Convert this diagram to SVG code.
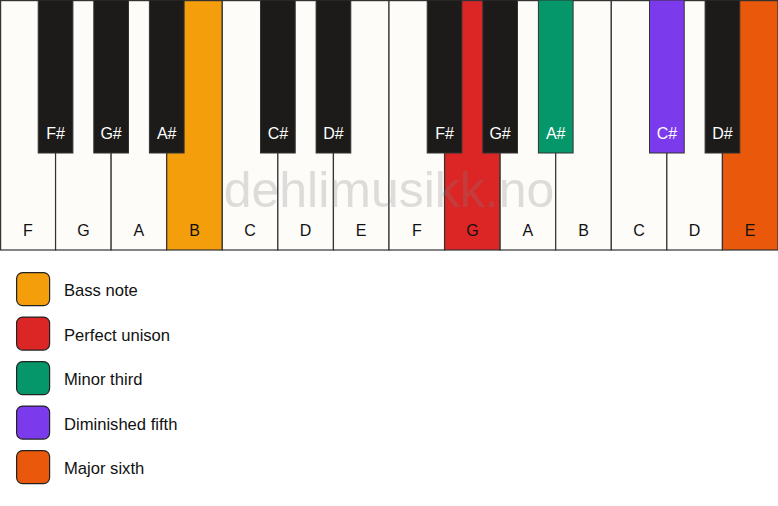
<svg xmlns="http://www.w3.org/2000/svg" width="778" height="506" viewBox="0 0 778 506">
<style>
text{font-family:"Liberation Sans",Arial,sans-serif;font-size:16px}
.w{fill:#fdfcf9;stroke:#333;stroke-width:1.2}
.b{fill:#1c1b19;stroke:#333;stroke-width:1}
.wl{fill:#111;text-anchor:middle}
.bl{fill:#fff;text-anchor:middle}
.lg{stroke:#222;stroke-width:1.2}
.lt{fill:#111;font-size:16.6px}
</style>
<rect width="778" height="506" fill="#fff"/>
<g id="white-keys">
<g id="key-F1"><rect class="w" x="0.6" y="0.6" width="54.97" height="249.4"/><text class="wl" x="27.8" y="236">F</text></g>
<g id="key-G1"><rect class="w" x="55.57" y="0.6" width="55.57" height="249.4"/><text class="wl" x="83.4" y="236">G</text></g>
<g id="key-A1"><rect class="w" x="111.14" y="0.6" width="55.57" height="249.4"/><text class="wl" x="138.9" y="236">A</text></g>
<g id="key-B1"><rect class="w" x="166.71" y="0.6" width="55.57" height="249.4" style="fill:#f59e0b"/><text class="wl" x="194.5" y="236">B</text></g>
<g id="key-C1"><rect class="w" x="222.29" y="0.6" width="55.57" height="249.4"/><text class="wl" x="250.1" y="236">C</text></g>
<g id="key-D1"><rect class="w" x="277.86" y="0.6" width="55.57" height="249.4"/><text class="wl" x="305.6" y="236">D</text></g>
<g id="key-E1"><rect class="w" x="333.43" y="0.6" width="55.57" height="249.4"/><text class="wl" x="361.2" y="236">E</text></g>
<g id="key-F2"><rect class="w" x="389" y="0.6" width="55.57" height="249.4"/><text class="wl" x="416.8" y="236">F</text></g>
<g id="key-G2"><rect class="w" x="444.57" y="0.6" width="55.57" height="249.4" style="fill:#dc2626"/><text class="wl" x="472.4" y="236">G</text></g>
<g id="key-A2"><rect class="w" x="500.14" y="0.6" width="55.57" height="249.4"/><text class="wl" x="527.9" y="236">A</text></g>
<g id="key-B2"><rect class="w" x="555.71" y="0.6" width="55.57" height="249.4"/><text class="wl" x="583.5" y="236">B</text></g>
<g id="key-C2"><rect class="w" x="611.29" y="0.6" width="55.57" height="249.4"/><text class="wl" x="639.1" y="236">C</text></g>
<g id="key-D2"><rect class="w" x="666.86" y="0.6" width="55.57" height="249.4"/><text class="wl" x="694.6" y="236">D</text></g>
<g id="key-E2"><rect class="w" x="722.43" y="0.6" width="55.57" height="249.4" style="fill:#ea580c"/><text class="wl" x="750.2" y="236">E</text></g>
</g>
<text x="389" y="207" text-anchor="middle" style="font-size:50px;fill:#808080;opacity:0.25">dehlimusikk.no</text>
<g id="black-keys">
<g id="key-Fs1"><rect class="b" x="38.2" y="0" width="34.7" height="153"/><text class="bl" x="55.6" y="139">F#</text></g>
<g id="key-Gs1"><rect class="b" x="93.8" y="0" width="34.7" height="153"/><text class="bl" x="111.1" y="139">G#</text></g>
<g id="key-As1"><rect class="b" x="149.4" y="0" width="34.7" height="153"/><text class="bl" x="166.7" y="139">A#</text></g>
<g id="key-Cs1"><rect class="b" x="260.5" y="0" width="34.7" height="153"/><text class="bl" x="277.9" y="139">C#</text></g>
<g id="key-Ds1"><rect class="b" x="316.1" y="0" width="34.7" height="153"/><text class="bl" x="333.4" y="139">D#</text></g>
<g id="key-Fs2"><rect class="b" x="427.2" y="0" width="34.7" height="153"/><text class="bl" x="444.6" y="139">F#</text></g>
<g id="key-Gs2"><rect class="b" x="482.8" y="0" width="34.7" height="153"/><text class="bl" x="500.1" y="139">G#</text></g>
<g id="key-As2"><rect class="b" x="538.4" y="0" width="34.7" height="153" style="fill:#059669"/><text class="bl" x="555.7" y="139">A#</text></g>
<g id="key-Cs2"><rect class="b" x="649.5" y="0" width="34.7" height="153" style="fill:#7c3aed"/><text class="bl" x="666.9" y="139">C#</text></g>
<g id="key-Ds2"><rect class="b" x="705.1" y="0" width="34.7" height="153"/><text class="bl" x="722.4" y="139">D#</text></g>
</g>
<g id="legend">
<g id="legend-bass"><rect class="lg" x="16.6" y="272.6" width="33" height="33" rx="6" fill="#f59e0b"/><text class="lt" x="64" y="296">Bass note</text></g>
<g id="legend-unison"><rect class="lg" x="16.6" y="317.1" width="33" height="33" rx="6" fill="#dc2626"/><text class="lt" x="64" y="340.5">Perfect unison</text></g>
<g id="legend-minor3"><rect class="lg" x="16.6" y="361.6" width="33" height="33" rx="6" fill="#059669"/><text class="lt" x="64" y="385">Minor third</text></g>
<g id="legend-dim5"><rect class="lg" x="16.6" y="406.1" width="33" height="33" rx="6" fill="#7c3aed"/><text class="lt" x="64" y="429.5">Diminished fifth</text></g>
<g id="legend-maj6"><rect class="lg" x="16.6" y="450.6" width="33" height="33" rx="6" fill="#ea580c"/><text class="lt" x="64" y="474">Major sixth</text></g>
</g>
</svg>
